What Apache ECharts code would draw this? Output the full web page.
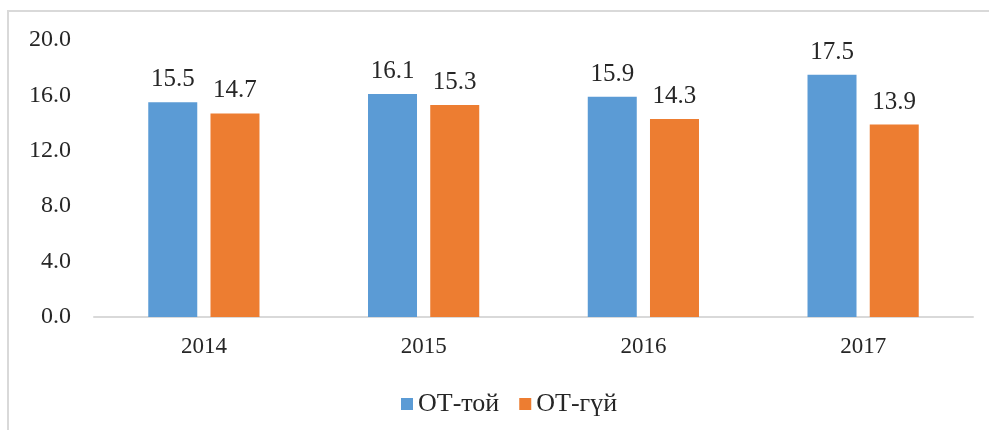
<!DOCTYPE html>
<html>
<head>
<meta charset="utf-8">
<script src="https://cdn.jsdelivr.net/npm/echarts@6/dist/echarts.min.js"></script>
<style>
  html, body { margin: 0; padding: 0; background: #fff; }
  #chart { width: 989px; height: 430px; }
</style>
</head>
<body>
<div id="chart"></div>
<script>
// data
var years = ["2014", "2015", "2016", "2017"];
var otToi = [15.5, 16.1, 15.9, 17.5];
var otGui = [14.7, 15.3, 14.3, 13.9];
var seriesNames = ["ОТ-той", "ОТ-гүй"];

var font = "'Liberation Serif', 'Times New Roman', serif";

var labelStyle = {
  show: true,
  position: "top",
  distance: 10,
  color: "#262626",
  fontFamily: font,
  fontSize: 25,
  formatter: function (p) { return p.value.toFixed(1); }
};

var chart = echarts.init(document.getElementById("chart"));
chart.setOption({
  animation: false,
  textStyle: { fontFamily: font },
  // frame of the original figure
  graphic: [{
    type: "rect",
    shape: { x: 8, y: 11, width: 1000, height: 500 },
    style: { fill: "none", stroke: "#d9d9d9", lineWidth: 2 },
    silent: true
  }],
  grid: { left: 94, right: 16, top: 40, bottom: 113 },
  legend: {
    data: seriesNames,
    left: 396,
    top: 386,
    icon: "rect",
    itemWidth: 12,
    itemHeight: 12,
    itemGap: 20,
    textStyle: { fontFamily: font, fontSize: 26, color: "#262626" }
  },
  xAxis: {
    type: "category",
    data: years,
    axisLine: { lineStyle: { color: "#d9d9d9", width: 2 } },
    axisTick: { show: false },
    axisLabel: { color: "#262626", fontFamily: font, fontSize: 23, margin: 18 }
  },
  yAxis: {
    type: "value",
    min: 0,
    max: 20,
    interval: 4,
    splitLine: { show: false },
    axisLine: { show: false },
    axisTick: { show: false },
    axisLabel: {
      color: "#262626",
      fontFamily: font,
      fontSize: 24,
      margin: 23,
      formatter: function (v) { return v.toFixed(1); }
    }
  },
  series: [
    {
      name: seriesNames[0],
      type: "bar",
      data: otToi,
      barWidth: 49,
      barGap: "27%",
      itemStyle: { color: "#5b9bd5" },
      label: labelStyle
    },
    {
      name: seriesNames[1],
      type: "bar",
      data: otGui,
      barWidth: 49,
      itemStyle: { color: "#ed7d31" },
      label: labelStyle
    }
  ]
});
</script>
</body>
</html>
